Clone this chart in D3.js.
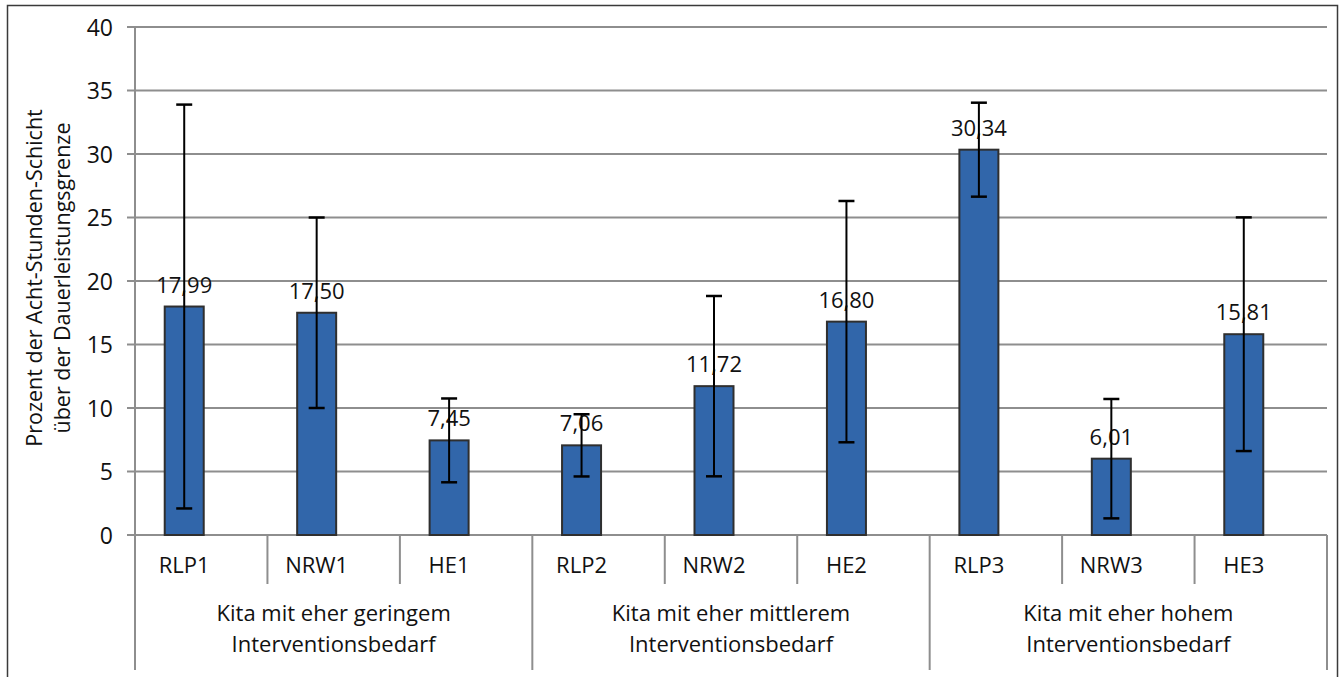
<!DOCTYPE html>
<html>
<head>
<meta charset="utf-8">
<script src="https://cdn.jsdelivr.net/npm/d3@7"></script>
<style>
  body { margin: 0; background: #fff; }
  svg text { font-family: "Open Sans", "Noto Sans", sans-serif; fill: #111; }
</style>
</head>
<body>
<div id="chart"></div>
<script>
// data
var categories = ['RLP1', 'NRW1', 'HE1', 'RLP2', 'NRW2', 'HE2', 'RLP3', 'NRW3', 'HE3'];
var values = [17.99, 17.50, 7.45, 7.06, 11.72, 16.80, 30.34, 6.01, 15.81];
var errors = [15.9, 7.5, 3.3, 2.45, 7.1, 9.5, 3.7, 4.7, 9.2];
var groups = [
  ['Kita mit eher geringem', 'Interventionsbedarf'],
  ['Kita mit eher mittlerem', 'Interventionsbedarf'],
  ['Kita mit eher hohem', 'Interventionsbedarf']
];
var yTicks = [0, 5, 10, 15, 20, 25, 30, 35, 40];
var yTitle = ['Prozent der Acht-Stunden-Schicht', 'über der Dauerleistungsgrenze'];

var W = 1340, H = 677;
var plot = {left: 135, right: 1327, top: 27, bottom: 535};
var barShift = -17;

var svg = d3.select('#chart').append('svg')
  .attr('width', W)
  .attr('height', H);

// outer frame
svg.append('rect')
  .attr('x', 7.5).attr('y', 5.5)
  .attr('width', 1330).attr('height', 700)
  .attr('fill', 'none')
  .attr('stroke', '#3a3a3a')
  .attr('stroke-width', 1.5);

var yScale = d3.scaleLinear()
  .domain([0, 40])
  .range([plot.bottom, plot.top]);

var xScale = d3.scaleBand()
  .domain(categories)
  .range([plot.left, plot.right])
  .padding(0);

var step = xScale.step();
var barWidth = 39;

// grid + y ticks
svg.append('g').selectAll('line').data(yTicks)
  .enter().append('line')
  .attr('x1', plot.left - 8)
  .attr('x2', plot.right)
  .attr('y1', function(d) { return yScale(d); })
  .attr('y2', function(d) { return yScale(d); })
  .attr('stroke', '#8e8e8e')
  .attr('stroke-width', 2);

var yAxis = d3.axisLeft(yScale).tickValues(yTicks).tickSize(0).tickPadding(22);
var yG = svg.append('g')
  .attr('transform', 'translate(' + plot.left + ',0)')
  .call(yAxis);
yG.select('.domain').remove();
yG.selectAll('text')
  .style('font-size', '23px')
  .style('font-family', '"Open Sans", sans-serif')
  .attr('fill', '#111')
  .attr('dy', '0.35em');

// y axis line
svg.append('line')
  .attr('x1', plot.left).attr('x2', plot.left)
  .attr('y1', plot.top).attr('y2', 670)
  .attr('stroke', '#8e8e8e')
  .attr('stroke-width', 2);

// category separators
var bounds = categories.map(function(c) { return xScale(c); }).concat([plot.right]);
svg.append('g').selectAll('line').data(bounds)
  .enter().append('line')
  .attr('x1', function(d) { return d; })
  .attr('x2', function(d) { return d; })
  .attr('y1', plot.bottom)
  .attr('y2', function(d, i) { return i % 3 === 0 ? 670 : 584; })
  .attr('stroke', '#8e8e8e')
  .attr('stroke-width', 2);

// y title
var yt = svg.append('text')
  .attr('transform', 'translate(42,278) rotate(-90)')
  .attr('text-anchor', 'middle')
  .style('font-size', '21.5px');
yt.selectAll('tspan').data(yTitle)
  .enter().append('tspan')
  .attr('x', 0)
  .attr('dy', function(d, i) { return i === 0 ? 0 : 28; })
  .text(function(d) { return d; });

// bars
var barX = function(c) { return xScale(c) + step / 2 + barShift; };

svg.append('g').selectAll('rect').data(values)
  .enter().append('rect')
  .attr('x', function(d, i) { return barX(categories[i]) - barWidth / 2; })
  .attr('y', function(d) { return yScale(d); })
  .attr('width', barWidth)
  .attr('height', function(d) { return yScale(0) - yScale(d); })
  .attr('fill', '#3166aa')
  .attr('stroke', '#2f2f2f')
  .attr('stroke-width', 2);

// value labels
var fmt = d3.format('.2f');
svg.append('g').selectAll('text').data(values)
  .enter().append('text')
  .attr('x', function(d, i) { return barX(categories[i]); })
  .attr('y', function(d) { return yScale(d) - 14; })
  .attr('text-anchor', 'middle')
  .style('font-size', '22px')
  .text(function(d) { return fmt(d).replace('.', ','); });

// error bars
var eb = svg.append('g').selectAll('g').data(values)
  .enter().append('g')
  .attr('stroke', '#000')
  .attr('stroke-width', 2);
eb.append('line')
  .attr('x1', function(d, i) { return barX(categories[i]); })
  .attr('x2', function(d, i) { return barX(categories[i]); })
  .attr('y1', function(d, i) { return yScale(d + errors[i]); })
  .attr('y2', function(d, i) { return yScale(d - errors[i]); });
eb.append('line')
  .attr('x1', function(d, i) { return barX(categories[i]) - 8; })
  .attr('x2', function(d, i) { return barX(categories[i]) + 8; })
  .attr('y1', function(d, i) { return yScale(d + errors[i]); })
  .attr('y2', function(d, i) { return yScale(d + errors[i]); })
  .attr('stroke-width', 2.5);
eb.append('line')
  .attr('x1', function(d, i) { return barX(categories[i]) - 8; })
  .attr('x2', function(d, i) { return barX(categories[i]) + 8; })
  .attr('y1', function(d, i) { return yScale(d - errors[i]); })
  .attr('y2', function(d, i) { return yScale(d - errors[i]); })
  .attr('stroke-width', 2.5);

// category labels
svg.append('g').selectAll('text').data(categories)
  .enter().append('text')
  .attr('x', function(d) { return barX(d); })
  .attr('y', 573)
  .attr('text-anchor', 'middle')
  .style('font-size', '22px')
  .text(function(d) { return d; });

// group labels
var gl = svg.append('g').selectAll('text').data(groups)
  .enter().append('text')
  .attr('text-anchor', 'middle')
  .style('font-size', '22px');
gl.selectAll('tspan').data(function(d, i) { return d.map(function(t) { return {t: t, g: i}; }); })
  .enter().append('tspan')
  .attr('x', function(d) { return (xScale(categories[d.g * 3]) + (d.g === 2 ? plot.right : xScale(categories[d.g * 3 + 3]))) / 2; })
  .attr('y', function(d, i) { return 621 + i * 31; })
  .text(function(d) { return d.t; });
</script>
</body>
</html>
